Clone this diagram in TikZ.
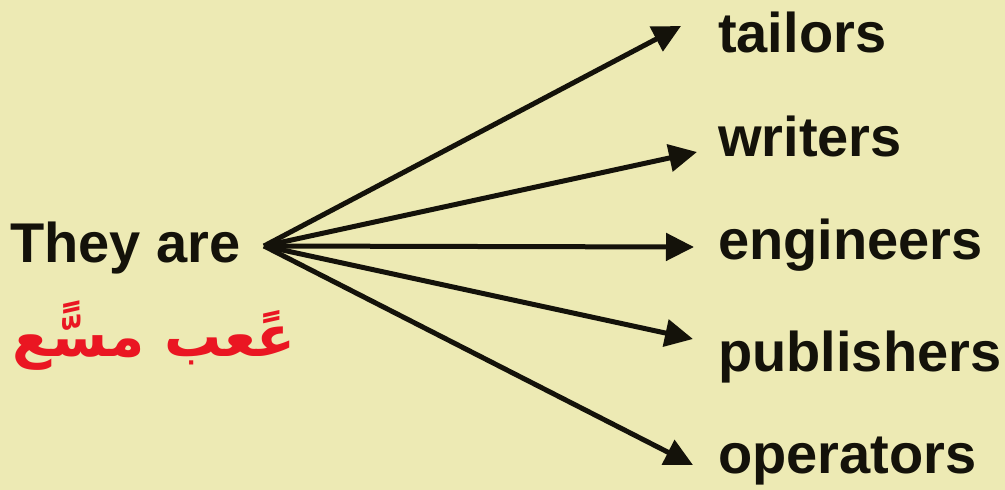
\documentclass[tikz,border=0pt]{standalone}
\usepackage{fontspec}
\setmainfont{Liberation Sans}
\newfontfamily\arabicfont[Script=Arabic]{DejaVu Sans}
\TeXXeTstate=1
\usetikzlibrary{arrows.meta}
\definecolor{paper}{RGB}{237,234,180}
\definecolor{arred}{RGB}{234,22,34}
\definecolor{ink}{RGB}{20,18,10}

\begin{document}
\begin{tikzpicture}[x=1pt,y=-1pt]
\tikzstyle{word} = [font=\fontsize{56}{60}\selectfont\bfseries, text=ink, inner sep=0pt, anchor=base west]
\tikzstyle{fan} = [ink, line width=5pt, -{Triangle[length=28pt,width=27pt]}]

\fill[paper] (0,0) rectangle (1005,490);

\node[word] (they) at (10,262) {They are};
\node[anchor=base west, inner sep=0pt, text=arred, font=\arabicfont\bfseries\fontsize{57}{60}\selectfont] (arabic) at (12,356) {\beginR عًعب مسًّع\endR};

\coordinate (hub) at (264,246);

\node[word] (tailors) at (718,52) {tailors};
\node[word] (writers) at (718,156) {writers};
\node[word] (engineers) at (718,259) {engineers};
\node[word] (publishers) at (718,371) {publishers};
\node[word] (operators) at (718,473) {operators};

\coordinate (tip1) at (681,26);
\coordinate (tip2) at (697,152);
\coordinate (tip3) at (694,247);
\coordinate (tip4) at (693,339);
\coordinate (tip5) at (693,465);

\foreach \i in {1,...,5}
  \draw[fan] (hub) -- (tip\i);

\end{tikzpicture}
\end{document}
